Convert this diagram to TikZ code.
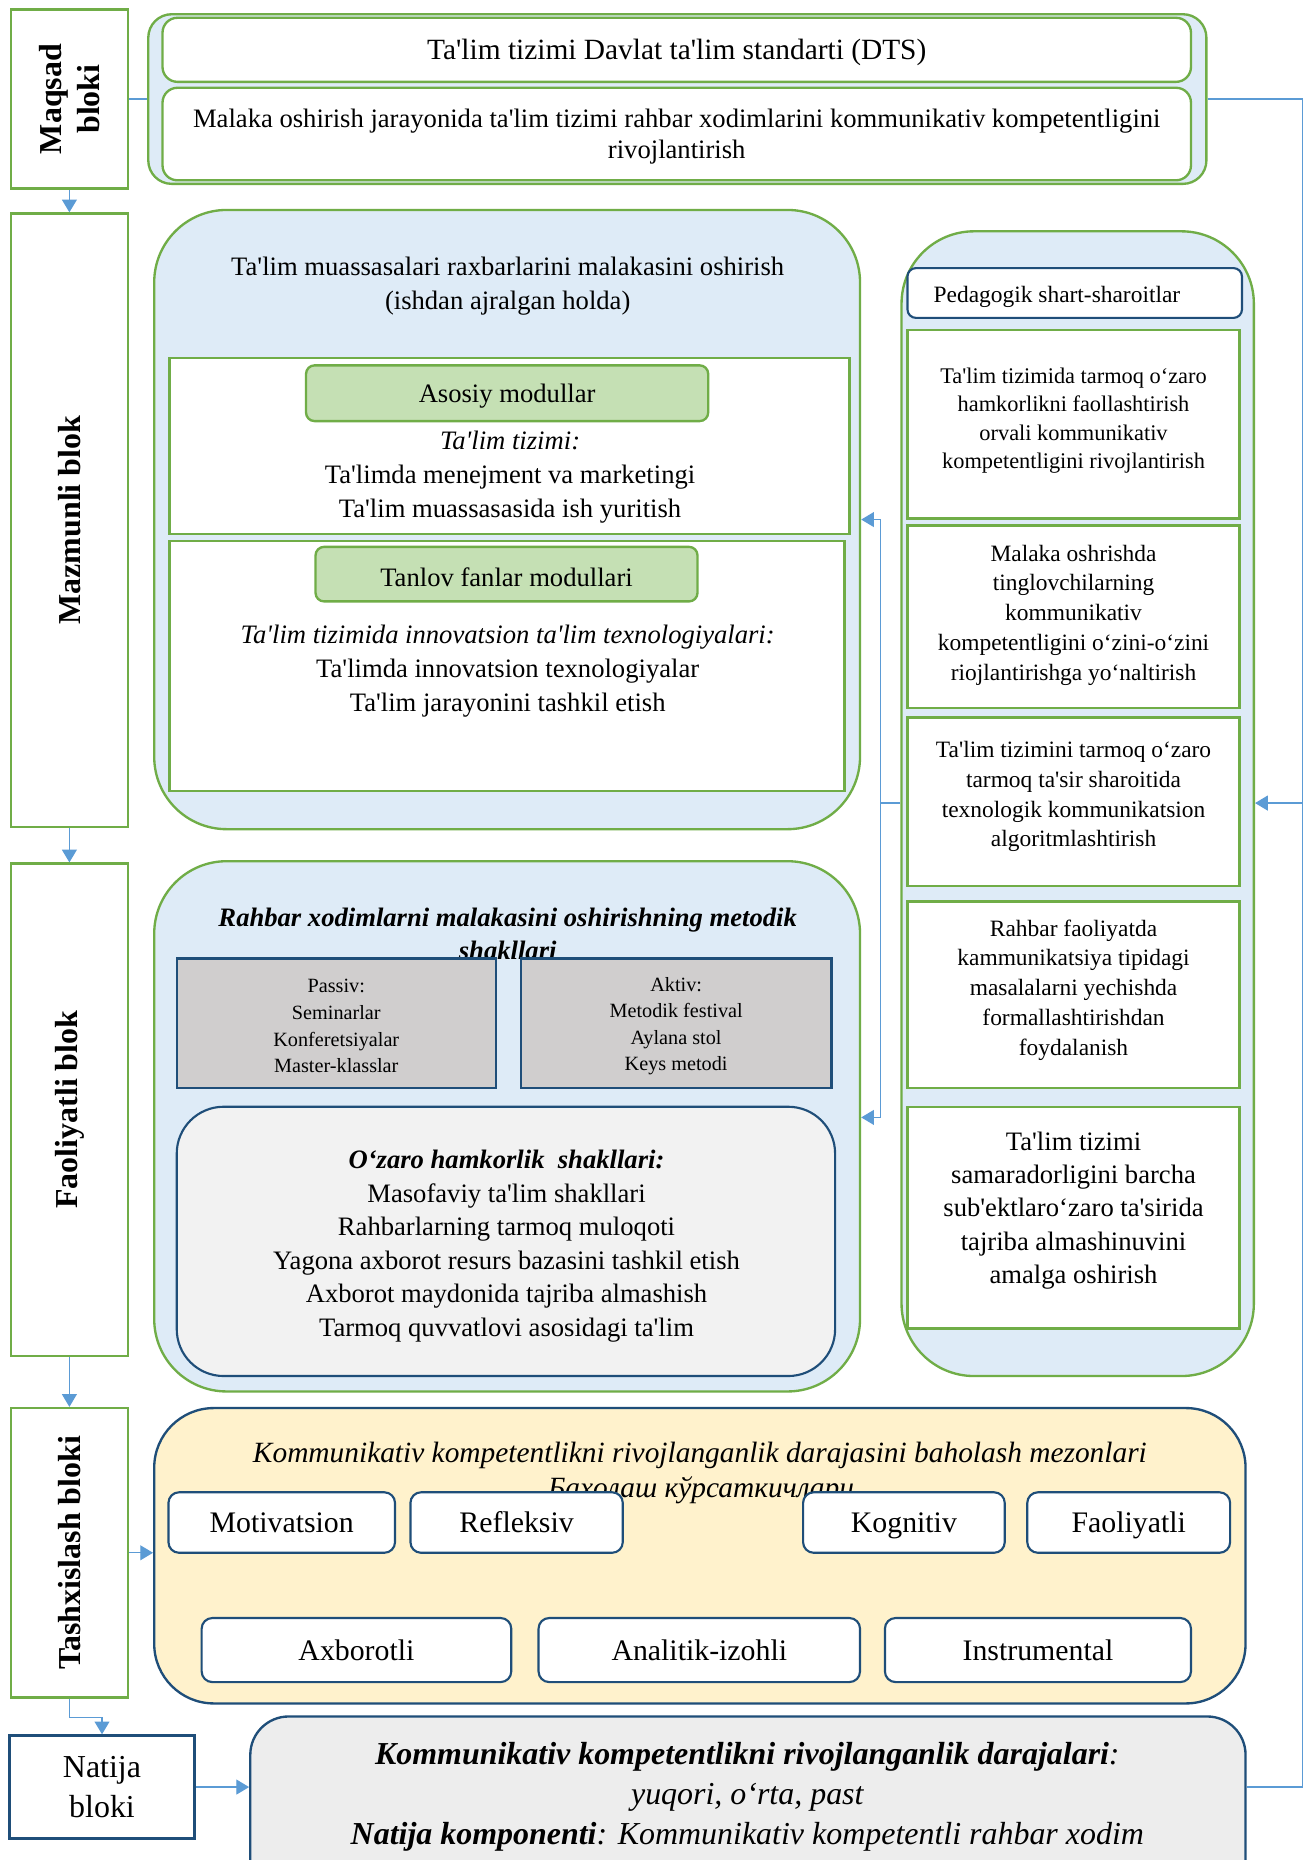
\documentclass[tikz,border=0pt]{standalone}
\usepackage{fontspec}
\setmainfont{Liberation Serif}[Ligatures=TeXOff]
\usetikzlibrary{arrows.meta,fit}

\definecolor{grn}{HTML}{70AD47}
\definecolor{navy}{HTML}{1F4E79}
\definecolor{link}{HTML}{5B9BD5}
\definecolor{pale}{HTML}{DEEBF7}
\definecolor{leaf}{HTML}{C5E0B4}
\definecolor{stone}{HTML}{D0CECE}
\definecolor{mist}{HTML}{F2F2F2}
\definecolor{cream}{HTML}{FFF2CC}
\definecolor{ash}{HTML}{EDEDED}

\begin{document}
\begin{tikzpicture}[x=0.557pt,y=-0.557pt,
    blokbox/.style={draw=grn, line width=1.1pt, fill=white, inner sep=0pt},
    panel/.style={draw=grn, line width=1.1pt, fill=pale, inner sep=0pt, rounded corners=34pt},
    inbox/.style={draw=grn, line width=1.1pt, fill=white, inner sep=0pt},
    modbox/.style={draw=grn, line width=1.1pt, fill=leaf, inner sep=0pt, rounded corners=4pt},
    formbox/.style={draw=navy, line width=1pt, fill=stone, inner sep=0pt},
    critbox/.style={draw=navy, line width=1pt, fill=white, inner sep=0pt, rounded corners=5pt},
    txt/.style={align=center, inner sep=0pt, yshift=-1.4pt, font=\fontsize{12.5}{16}\selectfont},
    crittxt/.style={txt, text height=10pt, text depth=3pt, font=\fontsize{14}{16}\selectfont},
    side/.style={align=center, inner sep=0pt, rotate=90, font=\fontsize{15}{18}\selectfont\bfseries},
    linkline/.style={draw=link, line width=0.6pt},
    arr/.style={linkline, -{Triangle[width=7pt,length=6pt]}},
    arrboth/.style={linkline, {Triangle[width=7pt,length=6pt]}-{Triangle[width=7pt,length=6pt]}}]

  \path[use as bounding box, fill=white] (0,0) rectangle (1104,1568);

  % Left column
  \node[blokbox, fit={(9,8) (108,159)}] (maqsad) {};
  \node[side] (maqsadT) at (maqsad) {Maqsad\\bloki};
  \node[blokbox, fit={(9,180) (108,697)}] (mazmunli) {};
  \node[side] (mazmunliT) at (mazmunli) {Mazmunli blok};
  \node[blokbox, fit={(9,728) (108,1143)}] (faoliyat) {};
  \node[side] (faoliyatT) at (faoliyat) {Faoliyatli blok};
  \node[blokbox, fit={(9,1187) (108,1431)}] (tashxis) {};
  \node[side] (tashxisT) at (tashxis) {Tashxislash bloki};
  \node[blokbox, draw=navy, fit={(8,1463) (164,1550)}] (natija) {};
  \node[txt, yshift=1.4pt, font=\fontsize{15}{18.4}\selectfont] (natijaT) at (natija) {Natija\\bloki};

  % Maqsad bloki group
  \node[panel, rounded corners=11pt, fit={(125,12) (1017,155)}] (maqsadgr) {};
  \node[inbox, rounded corners=7pt, fit={(137,15) (1004,69)}] (dts) {};
  \node[txt, font=\fontsize{13.8}{16}\selectfont] (dtsT) at (dts) {Ta'lim tizimi Davlat ta'lim standarti (DTS)};
  \node[inbox, rounded corners=7pt, fit={(137,74) (1004,152)}] (goal) {};
  \node[txt, font=\fontsize{12.5}{14.5}\selectfont] (goalT) at (goal) {Malaka oshirish jarayonida ta'lim tizimi rahbar xodimlarini kommunikativ kompetentligini\\rivojlantirish};

  % Mazmunli panel
  \node[panel, fit={(130,177) (725,699)}] (mazmun) {};
  \node[txt] (mazmunT) at (428,239) {Ta'lim muassasalari raxbarlarini malakasini oshirish\\(ishdan ajralgan holda)};
  \node[inbox, fit={(143,302) (716,450)}] (asosbox) {};
  \node[modbox, fit={(258,308) (597,355)}] (asosiy) {};
  \node[txt] (asosiyT) at (asosiy) {Asosiy modullar};
  \node[txt, font=\fontsize{12.5}{15.9}\selectfont] (asosT) at (430,400) {\textit{Ta'lim tizimi:}\\Ta'limda menejment va marketingi\\Ta'lim muassasasida ish yuritish};
  \node[inbox, fit={(143,456) (712,667)}] (tanlovbox) {};
  \node[modbox, fit={(266,461) (588,507)}] (tanlov) {};
  \node[txt] (tanlovT) at (tanlov) {Tanlov fanlar modullari};
  \node[txt, font=\fontsize{12.5}{15.9}\selectfont] (tanlovL) at (428,563) {\textit{Ta'lim tizimida innovatsion ta'lim texnologiyalari:}\\Ta'limda innovatsion texnologiyalar\\Ta'lim jarayonini tashkil etish};

  % Faoliyatli panel
  \node[panel, fit={(130,726) (725,1173)}] (faol) {};
  \node[txt, font=\fontsize{12.5}{15.6}\selectfont\bfseries\itshape] (faolT) at (428,785) {Rahbar xodimlarni malakasini oshirishning metodik\\shakllari};
  \node[formbox, fit={(149,808) (418,917)}] (passiv) {};
  \node[txt, font=\fontsize{9.5}{12.5}\selectfont] (passivT) at (passiv) {Passiv:\\Seminarlar\\Konferetsiyalar\\Master-klasslar};
  \node[formbox, fit={(439,808) (701,917)}] (aktiv) {};
  \node[txt, font=\fontsize{9.5}{12.5}\selectfont] (aktivT) at (aktiv) {Aktiv:\\Metodik festival\\Aylana stol\\Keys metodi};
  \node[formbox, fill=mist, rounded corners=22pt, fit={(149,933) (704,1160)}] (ozaro) {};
  \node[txt, font=\fontsize{12.5}{15.7}\selectfont] (ozaroT) at (427,1048) {\textbf{\textit{O‘zaro hamkorlik\ \ shakllari:}}\\Masofaviy ta'lim shakllari\\Rahbarlarning tarmoq muloqoti\\Yagona axborot resurs bazasini tashkil etish\\Axborot maydonida tajriba almashish\\Tarmoq quvvatlovi asosidagi ta'lim};

  % Pedagogik shart-sharoitlar
  \node[panel, fit={(760,195) (1057,1160)}] (shart) {};
  \node[critbox, rounded corners=4pt, fit={(765,226) (1047,268)}] (pedag) {};
  \node[txt, font=\fontsize{11}{13}\selectfont] (pedagT) at (891,248) {Pedagogik shart-sharoitlar};
  \node[inbox, fit={(765,278) (1045,437)}] (shart1) {};
  \node[txt, font=\fontsize{10.5}{13.4}\selectfont] (shart1T) at (905,352) {Ta'lim tizimida tarmoq o‘zaro\\hamkorlikni faollashtirish\\orvali kommunikativ\\kompetentligini rivojlantirish};
  \node[inbox, fit={(765,443) (1045,597)}] (shart2) {};
  \node[txt, font=\fontsize{11}{14}\selectfont] (shart2T) at (905,516) {Malaka oshrishda\\tinglovchilarning\\kommunikativ\\kompetentligini o‘zini-o‘zini\\riojlantirishga yo‘naltirish};
  \node[inbox, fit={(765,605) (1045,747)}] (shart3) {};
  \node[txt, font=\fontsize{11}{14}\selectfont] (shart3T) at (905,669) {Ta'lim tizimini tarmoq o‘zaro\\tarmoq ta'sir sharoitida\\texnologik kommunikatsion\\algoritmlashtirish};
  \node[inbox, fit={(765,760) (1045,917)}] (shart4) {};
  \node[txt, font=\fontsize{11}{14}\selectfont] (shart4T) at (905,832) {Rahbar faoliyatda\\kammunikatsiya tipidagi\\masalalarni yechishda\\formallashtirishdan\\foydalanish};
  \node[inbox, fit={(765,933) (1045,1120)}] (shart5) {};
  \node[txt, font=\fontsize{12.5}{15.6}\selectfont] (shart5T) at (905,1018) {Ta'lim tizimi\\samaradorligini barcha\\sub'ektlaro‘zaro ta'sirida\\tajriba almashinuvini\\amalga oshirish};

  % Tashxislash panel
  \node[panel, draw=navy, fill=cream, rounded corners=28pt, fit={(130,1187) (1050,1436)}] (tashx) {};
  \node[txt, font=\fontsize{13.8}{15}\selectfont\itshape] (tashxT) at (590,1224) {Kommunikativ kompetentlikni rivojlanganlik darajasini baholash mezonlari};
  \node[txt, font=\fontsize{13.8}{15}\selectfont\itshape] (tashxC) at (591,1254) {Баҳолаш кўрсаткичлари};
  \node[critbox, fit={(142,1258) (333,1309)}] (motiv) {};
  \node[crittxt] (motivT) at (motiv) {Motivatsion};
  \node[critbox, fit={(346,1258) (525,1309)}] (reflek) {};
  \node[crittxt] (reflekT) at (reflek) {Refleksiv};
  \node[critbox, fit={(677,1258) (847,1309)}] (kogn) {};
  \node[crittxt] (kognT) at (kogn) {Kognitiv};
  \node[critbox, fit={(866,1258) (1037,1309)}] (faolkr) {};
  \node[crittxt] (faolkrT) at (faolkr) {Faoliyatli};
  \node[critbox, fit={(170,1364) (431,1418)}] (axbor) {};
  \node[crittxt] (axborT) at (axbor) {Axborotli};
  \node[critbox, fit={(454,1364) (725,1418)}] (analit) {};
  \node[crittxt] (analitT) at (analit) {Analitik-izohli};
  \node[critbox, fit={(746,1364) (1004,1418)}] (instr) {};
  \node[crittxt] (instrT) at (instr) {Instrumental};

  % Natija panel
  \node[panel, draw=navy, fill=ash, rounded corners=18pt, fit={(211,1447) (1050,1600)}] (natijagr) {};
  \node[txt, font=\fontsize{15}{18.7}\selectfont\itshape] (natijagrT) at (630,1512) {\textbf{Kommunikativ kompetentlikni rivojlanganlik darajalari}:\\yuqori, o‘rta, past\\\textbf{Natija komponenti}: Kommunikativ kompetentli rahbar xodim};

  % Connectors
  \draw[arr] (maqsad) -- (mazmunli);
  \draw[arr] (mazmunli) -- (faoliyat);
  \draw[arr] (faoliyat) -- (tashxis);
  \draw[arr] (tashxis.south) -- ++(0,16) -| (natija.north);
  \draw[arr] (natija.east) -- (natija.east -| natijagr.west);
  \draw[arr] (tashxis.east) -- (tashxis.east -| tashx.west);
  \draw[linkline] (maqsad.east) -- (maqsadgr.west);

  \coordinate (rr) at (1098,83.5);
  \coordinate (bus) at (742,677);
  \coordinate (busT) at (742,438);
  \coordinate (busB) at (742,942);
  \draw[linkline] (maqsadgr.east) -- (rr) |- (natijagr.east |- natija.east);
  \draw[arr] (rr |- bus) -- (bus -| shart.east);
  \draw[linkline] (bus -| shart.west) -- (bus);
  \draw[arrboth] (busT -| mazmun.east) -- (busT) -- (busB) -- (busB -| faol.east);
\end{tikzpicture}
\end{document}
